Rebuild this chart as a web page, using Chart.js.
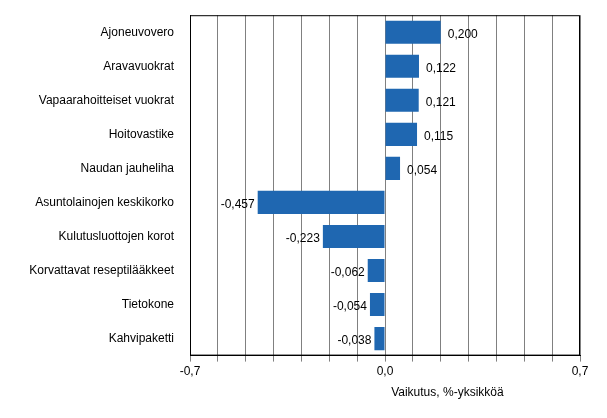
<!DOCTYPE html>
<html><head><meta charset="utf-8">
<script src="https://cdn.jsdelivr.net/npm/chart.js@4"></script>
<style>html,body{margin:0;padding:0;background:#fff}#w{width:607px;height:418px}</style>
</head><body><div id="w"><canvas id="c"></canvas></div>
<script>
const categories=["Ajoneuvovero","Aravavuokrat","Vapaarahoitteiset vuokrat","Hoitovastike","Naudan jauheliha","Asuntolainojen keskikorko","Kulutusluottojen korot","Korvattavat reseptilääkkeet","Tietokone","Kahvipaketti"];
const values=[0.200,0.122,0.121,0.115,0.054,-0.457,-0.223,-0.062,-0.054,-0.038];
const tickLabels=[-0.7,0,0.7];
const axisTitle="Vaikutus, %-yksikköä";
const fmt=v=>v.toFixed(3).replace('.',',');
const FONT="'Liberation Sans', Arial, sans-serif";
const labelPlugin={id:'lbl',afterDatasetsDraw(ch){
  const ctx=ch.ctx,meta=ch.getDatasetMeta(0);ctx.save();
  ctx.font="12px "+FONT;ctx.fillStyle="#000";ctx.textBaseline="middle";
  meta.data.forEach((b,i)=>{const v=values[i];
    if(v>=0){ctx.textAlign="left";ctx.fillText(fmt(v),b.x+7,b.y+2);}
    else{ctx.textAlign="right";ctx.fillText(fmt(v),b.x-3,b.y+2);}});
  const a=ch.chartArea;ctx.textAlign="center";ctx.textBaseline="alphabetic";
  ctx.fillText(axisTitle,a.left+(a.right-a.left)*0.66,a.bottom+40);
  ctx.strokeStyle="#000";ctx.lineWidth=1;ctx.strokeRect(a.left+0.5,a.top+0.5,a.right-a.left-1,a.bottom-a.top-1);
  ctx.restore();}};
new Chart(document.getElementById('c'),{type:'bar',
 data:{labels:categories,datasets:[{data:values,backgroundColor:'#1f67b1',barPercentage:0.68,categoryPercentage:1}]},
 options:{indexAxis:'y',responsive:true,maintainAspectRatio:false,animation:false,
  layout:{padding:{top:14,right:27,bottom:36,left:4}},
  plugins:{legend:{display:false},tooltip:{enabled:false}},
  scales:{
   x:{min:-0.7,max:0.7,ticks:{stepSize:0.1,autoSkip:false,maxRotation:0,color:'#000',font:{family:FONT,size:12},
      callback:(v)=>{const r=Math.round(v*10)/10;return tickLabels.includes(r)?r.toFixed(1).replace('.',','):'';}},
      grid:{color:'#808080',drawTicks:true,tickLength:6},border:{color:'#000'}},
   y:{afterFit:(s)=>{s.width=186;},ticks:{color:'#000',font:{family:FONT,size:12},padding:8},grid:{display:false,drawTicks:true},border:{color:'#000'}}
  }},plugins:[labelPlugin]});
</script></body></html>
